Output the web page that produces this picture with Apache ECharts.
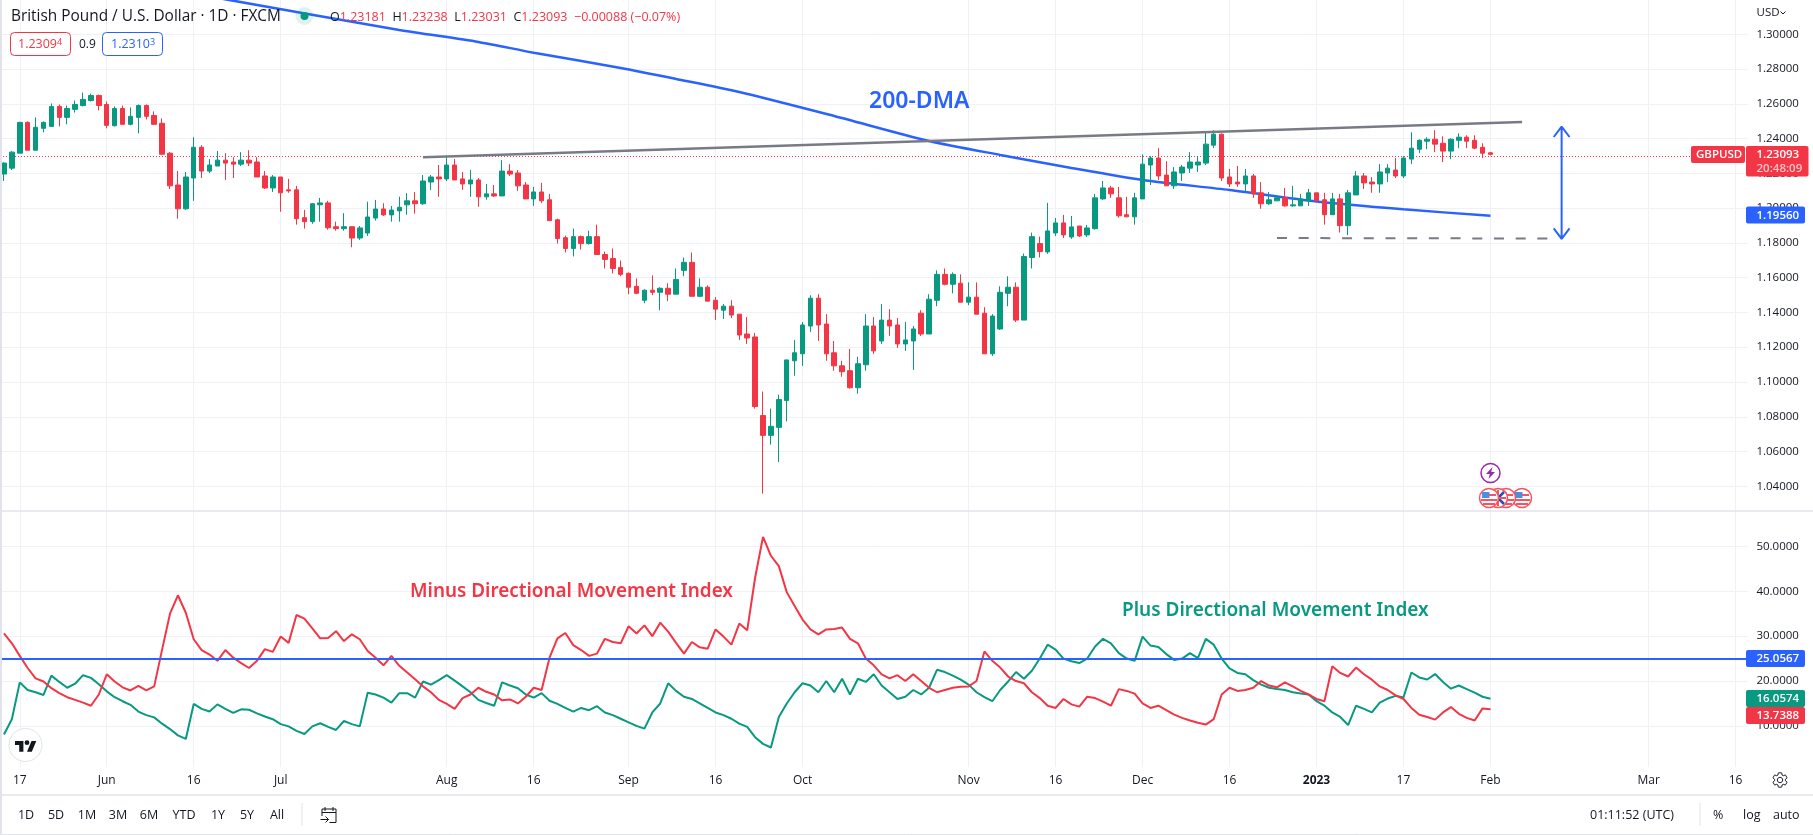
<!DOCTYPE html>
<html>
<head>
<meta charset="utf-8">
<style>html,body{margin:0;padding:0;background:#fff}#chart{width:1813px;height:835px}</style>
<script src="https://cdn.jsdelivr.net/npm/echarts@6/dist/echarts.min.js"></script>
</head>
<body>
<div id="chart"></div>
<script>
// GBP/USD daily candles, one entry per trading day from 13 May 2022
var opens = [
1.2196,1.2230,1.2316,1.2493,1.2333,1.2459,1.2470,1.2585,1.2522,1.2568,
1.2590,1.2619,1.2648,1.2596,1.2474,1.2573,1.2482,1.2522,1.2590,1.2533,
1.2488,1.2316,1.2133,1.1996,1.2173,1.2350,1.2213,1.2242,1.2276,1.2265,
1.2253,1.2276,1.2265,1.2185,1.2116,1.2179,1.2105,1.2105,1.1945,1.1922,
1.2019,1.2030,1.1893,1.1882,1.1893,1.1828,1.1857,1.1943,1.1995,1.1961,
1.1984,1.2019,1.2042,1.2025,1.2150,1.2179,1.2168,1.2248,1.2168,1.2139,
1.2162,1.2065,1.2082,1.2070,1.2213,1.2202,1.2133,1.2053,1.2093,1.2048,
1.1933,1.1830,1.1768,1.1836,1.1796,1.1836,1.1733,1.1710,1.1659,1.1625,
1.1550,1.1470,1.1528,1.1516,1.1539,1.1505,1.1642,1.1688,1.1493,1.1545,
1.1470,1.1413,1.1436,1.1390,1.1276,1.1259,1.0807,1.0693,1.0739,1.0893,
1.1122,1.1162,1.1322,1.1482,1.1333,1.1168,1.1093,1.1065,1.0967,1.1099,
1.1322,1.1236,1.1356,1.1328,1.1219,1.1236,1.1396,1.1276,1.1470,1.1619,
1.1562,1.1568,1.1459,1.1488,1.1396,1.1162,1.1305,1.1510,1.1545,1.1356,
1.1716,1.1796,1.1748,1.1857,1.1915,1.1834,1.1897,1.1846,1.1882,1.2053,
1.2116,1.2059,1.1962,1.1950,1.2053,1.2248,1.2288,1.2190,1.2128,1.2202,
1.2230,1.2248,1.2259,1.2362,1.2425,1.2179,1.2150,1.2139,1.2185,1.2088,
1.2025,1.2042,1.2059,1.2013,1.2013,1.2042,1.2088,1.2048,1.1962,1.2053,
1.1899,1.2076,1.2185,1.2150,1.2139,1.2202,1.2219,1.2185,1.2282,1.2339,
1.2385,1.2396,1.2373,1.2328,1.2390,1.2408,1.2390,1.2350,1.23181];
var closes = [
1.2259,1.2322,1.2493,1.2333,1.2465,1.2493,1.2585,1.2522,1.2573,1.2596,
1.2625,1.2648,1.2590,1.2476,1.2573,1.2482,1.2528,1.2590,1.2528,1.2482,
1.2310,1.2128,1.1996,1.2179,1.2350,1.2213,1.2248,1.2276,1.2259,1.2253,
1.2276,1.2259,1.2179,1.2116,1.2179,1.2088,1.2099,1.1939,1.1922,1.2025,
1.2030,1.1887,1.1882,1.1893,1.1828,1.1886,1.1949,1.1995,1.1961,1.1989,
1.2005,1.2042,1.2025,1.2156,1.2179,1.2168,1.2248,1.2162,1.2139,1.2162,
1.2065,1.2082,1.2070,1.2213,1.2196,1.2128,1.2053,1.2093,1.2042,1.1928,
1.1825,1.1768,1.1836,1.1796,1.1836,1.1733,1.1705,1.1653,1.1619,1.1545,
1.1510,1.1528,1.1516,1.1539,1.1505,1.1590,1.1688,1.1493,1.1545,1.1465,
1.1419,1.1436,1.1385,1.1270,1.1253,1.0859,1.0693,1.0745,1.0899,1.1127,
1.1168,1.1328,1.1482,1.1328,1.1162,1.1093,1.1059,1.0967,1.1105,1.1322,
1.1179,1.1356,1.1322,1.1219,1.1242,1.1305,1.1276,1.1476,1.1619,1.1562,
1.1619,1.1459,1.1488,1.1390,1.1162,1.1379,1.1516,1.1545,1.1356,1.1722,
1.1836,1.1750,1.1869,1.1915,1.1846,1.1892,1.1840,1.1886,1.2059,1.2116,
1.2082,1.1956,1.1950,1.2059,1.2253,1.2288,1.2185,1.2128,1.2208,1.2236,
1.2265,1.2265,1.2368,1.2425,1.2173,1.2139,1.2139,1.2185,1.2082,1.2025,
1.2048,1.2059,1.2013,1.2019,1.2053,1.2088,1.2042,1.1962,1.2053,1.1899,
1.2088,1.2185,1.2145,1.2139,1.2208,1.2230,1.2185,1.2288,1.2345,1.2390,
1.2396,1.2368,1.2328,1.2396,1.2408,1.2385,1.2345,1.2316,1.23093];
var lows = [
1.2156,1.2219,1.2316,1.2333,1.2333,1.2436,1.2470,1.2470,1.2482,1.2550,
1.2585,1.2613,1.2562,1.2459,1.2470,1.2482,1.2476,1.2430,1.2510,1.2482,
1.2305,1.2110,1.1939,1.1990,1.2042,1.2173,1.2202,1.2242,1.2162,1.2173,
1.2242,1.2242,1.2179,1.2110,1.2093,1.1979,1.2088,1.1905,1.1882,1.1910,
1.1922,1.1876,1.1870,1.1870,1.1775,1.1817,1.1840,1.1928,1.1955,1.1922,
1.1922,1.1962,1.1968,1.2019,1.2105,1.2065,1.2156,1.2162,1.2105,1.2065,
1.2008,1.2048,1.2065,1.2070,1.2185,1.2099,1.2053,1.2013,1.2030,1.1928,
1.1796,1.1745,1.1722,1.1762,1.1790,1.1733,1.1653,1.1625,1.1608,1.1505,
1.1505,1.1453,1.1499,1.1413,1.1465,1.1505,1.1608,1.1493,1.1488,1.1465,
1.1356,1.1362,1.1368,1.1242,1.1219,1.0847,1.0358,1.0640,1.0540,1.0773,
1.1036,1.1093,1.1288,1.1236,1.1122,1.1065,1.1030,1.0962,1.0933,1.1065,
1.1162,1.1219,1.1265,1.1196,1.1179,1.1070,1.1265,1.1276,1.1436,1.1556,
1.1510,1.1459,1.1442,1.1390,1.1162,1.1150,1.1299,1.1436,1.1345,1.1356,
1.1653,1.1716,1.1737,1.1840,1.1828,1.1823,1.1834,1.1834,1.1876,1.2048,
1.2059,1.1945,1.1950,1.1905,1.2053,1.2133,1.2162,1.2128,1.2110,1.2156,
1.2202,1.2208,1.2248,1.2345,1.2156,1.2122,1.2122,1.2093,1.2059,1.1996,
1.2019,1.2042,1.2008,1.2008,1.2013,1.2013,1.2042,1.1905,1.1962,1.1860,
1.1845,1.2076,1.2110,1.2088,1.2088,1.2150,1.2173,1.2173,1.2253,1.2316,
1.2339,1.2322,1.2265,1.2282,1.2345,1.2345,1.2339,1.2288,1.23031];
var highs = [
1.2263,1.2328,1.2497,1.2499,1.2522,1.2499,1.2602,1.2596,1.2590,1.2619,
1.2665,1.2659,1.2653,1.2613,1.2585,1.2590,1.2579,1.2596,1.2596,1.2556,
1.2516,1.2322,1.2213,1.2208,1.2408,1.2362,1.2282,1.2328,1.2316,1.2293,
1.2322,1.2333,1.2293,1.2213,1.2190,1.2179,1.2168,1.2128,1.1990,1.2028,
1.2059,1.2042,1.1922,1.1971,1.1895,1.1897,1.2037,1.2047,1.2028,1.2012,
1.2066,1.2086,1.2093,1.2190,1.2190,1.2248,1.2295,1.2282,1.2208,1.2219,
1.2173,1.2139,1.2133,1.2276,1.2253,1.2219,1.2150,1.2122,1.2145,1.2082,
1.1939,1.1842,1.1882,1.1842,1.1870,1.1905,1.1750,1.1768,1.1699,1.1630,
1.1596,1.1533,1.1613,1.1545,1.1568,1.1653,1.1716,1.1745,1.1596,1.1556,
1.1488,1.1448,1.1470,1.1390,1.1373,1.1282,1.0945,1.0847,1.0927,1.1127,
1.1242,1.1345,1.1499,1.1505,1.1390,1.1236,1.1122,1.1190,1.1145,1.1390,
1.1373,1.1448,1.1419,1.1368,1.1345,1.1322,1.1413,1.1505,1.1642,1.1653,
1.1630,1.1619,1.1573,1.1573,1.1430,1.1390,1.1550,1.1608,1.1573,1.1739,
1.1859,1.1836,1.2030,1.1943,1.1961,1.1955,1.1897,1.1903,1.2082,1.2156,
1.2128,1.2122,1.2065,1.2088,1.2309,1.2299,1.2345,1.2270,1.2236,1.2248,
1.2322,1.2299,1.2442,1.2448,1.2430,1.2225,1.2242,1.2225,1.2196,1.2150,
1.2093,1.2076,1.2116,1.2128,1.2082,1.2110,1.2088,1.2088,1.2088,1.2082,
1.2105,1.2213,1.2202,1.2179,1.2253,1.2253,1.2288,1.2299,1.2436,1.2396,
1.2408,1.2448,1.2413,1.2402,1.2430,1.2419,1.2419,1.2373,1.23238];

var plusDI = [
8.1,11.5,19.7,18.0,17.5,16.9,21.2,19.8,18.5,19.4,
21.3,20.7,19.3,17.7,16.4,15.5,14.7,13.2,12.4,11.9,
10.5,9.3,7.9,7.1,14.9,13.8,13.2,14.8,13.8,12.9,
13.7,13.6,12.8,12.1,11.5,10.4,9.9,8.9,8.2,9.9,
10.6,9.8,9.1,11.1,10.4,9.9,17.4,17.0,16.3,15.2,
17.3,17.3,16.3,19.9,19.2,20.2,21.3,20.1,18.8,17.5,
15.8,15.1,14.5,19.7,19.0,18.4,17.0,16.3,17.3,15.6,
14.9,14.0,13.2,14.0,13.5,14.4,13.0,12.4,11.6,10.8,
10.0,9.4,13.0,15.0,19.5,17.8,16.5,16.0,15.0,14.0,
13.0,12.4,11.6,10.5,9.8,7.5,6.0,5.2,12.0,15.0,
17.5,19.5,19.0,17.5,20.0,17.5,20.5,17.0,20.5,19.8,
21.5,19.0,17.5,16.0,16.5,18.0,17.0,18.5,22.5,22.0,
21.2,20.3,19.2,17.5,16.4,15.5,18.0,19.9,22.0,20.5,
22.3,25.0,28.1,27.0,25.0,24.4,24.0,25.0,27.7,29.4,
28.4,26.2,25.0,24.5,29.9,27.9,27.6,26.0,24.7,25.0,
26.2,25.1,29.4,28.1,25.0,22.8,21.8,21.5,20.2,19.2,
18.5,18.2,18.0,17.5,17.2,17.0,15.5,14.5,13.0,12.0,
10.2,14.5,13.8,13.0,15.2,16.1,16.7,16.35,21.9,20.8,
20.35,21.55,19.8,18.3,19.0,18.2,17.4,16.5,16.0574];
var minusDI = [
30.6,28.4,25.6,22.9,20.6,19.9,18.4,17.3,16.4,15.8,
15.2,14.5,17.0,21.5,19.9,18.6,17.9,18.9,17.9,18.8,
27.0,35.0,39.1,35.2,29.3,26.9,25.9,24.5,26.9,25.2,
24.0,22.9,24.5,27.1,26.5,29.9,28.5,34.7,33.9,31.7,
29.5,29.6,31.1,28.9,30.4,29.3,26.7,25.2,23.5,25.6,
23.4,21.9,20.4,18.8,17.5,15.8,14.9,13.8,16.2,17.0,
18.5,17.6,17.0,15.7,15.9,15.0,16.5,18.5,18.0,25.2,
29.5,30.7,28.0,26.9,25.6,26.1,29.4,28.7,28.4,32.2,
30.6,32.4,30.0,33.0,31.0,28.5,26.1,28.7,27.5,27.2,
31.5,29.9,28.1,32.8,31.3,43.0,52.1,47.9,45.6,39.8,
36.7,33.7,31.5,30.4,31.5,31.6,31.9,29.4,28.4,25.0,
23.5,21.5,20.6,21.3,20.0,21.5,20.0,18.5,17.5,18.0,
18.5,18.7,18.8,20.0,26.6,24.5,23.0,21.0,20.0,19.5,
17.5,16.2,14.5,14.0,16.0,14.8,14.3,16.5,16.2,15.4,
14.5,18.2,17.8,17.2,15.0,14.0,14.5,13.5,12.5,11.8,
11.2,10.7,10.3,11.5,17.0,18.5,17.8,18.0,18.5,20.0,
19.0,18.6,19.7,18.8,17.8,17.0,16.0,15.5,23.3,21.8,
21.0,23.0,21.5,20.3,18.8,18.0,16.8,16.0,14.0,12.5,
12.0,11.4,13.0,14.2,12.7,11.8,11.2,13.9,13.7388];

// 200-DMA read at these bar numbers
var dmaBars = [22,29,50,60,67,78,85,93,105,117,126,135,144,155,166,177,188];
var dmaValues = [1.3249,1.3193,1.3025,1.2956,1.2894,1.2806,1.2743,1.2668,1.2530,1.2386,1.2306,1.2231,1.2162,1.2104,1.2038,1.1993,1.1956];

// hand-drawn lines on the price pane: [bar, price]
var trendLine = [[53,1.2292],[192,1.2496]];
var supportLine = [[160.8,1.1828],[195.5,1.1825]];
var rangeArrow = [[195.67,1.2409],[196.93,1.2469],[198.19,1.2409],[196.93,1.2469],[196.93,1.1823],[195.67,1.1883],[196.93,1.1823],[198.19,1.1883]];

var priceTicks = [1.04,1.06,1.08,1.10,1.12,1.14,1.16,1.18,1.20,1.22,1.24,1.26,1.28,1.30];
var dmiTicks = [10,20,30,40,50];
var lastPrice = 1.23093;
var adxLevel = 25.0567;

var timeBars = [2,13,24,35,56,67,79,90,101,122,133,144,155,166,177,188,208,219];
var timeLabels = ['17','Jun','16','Jul','Aug','16','Sep','16','Oct','Nov','16','Dec','16','2023','17','Feb','Mar','16'];
var rangeButtons = ['1D','5D','1M','3M','6M','YTD','1Y','5Y','All'];

var GREEN = '#089981', RED = '#F23645', BLUE = '#2962FF', GREY = '#787B86', GRID = '#eff1f5', INK = '#131722';
var FONT = 'Open Sans';
var NOTE_FONT = 'Noto Sans';

var barCount = 221, barStep = 7.909;
var categories = [];
for (var d = new Date(Date.UTC(2022, 4, 13)); categories.length < barCount; d.setUTCDate(d.getUTCDate() + 1)) {
    if (d.getUTCDay() !== 0 && d.getUTCDay() !== 6) categories.push(d.toISOString().slice(0, 10));
}
var isTick = function(i) { return timeBars.indexOf(i) >= 0; };

var candles = opens.map(function(o, i) { return [o, closes[i], lows[i], highs[i]]; });
var dma = dmaBars.map(function(b, i) { return [b, dmaValues[i]]; });

function xAxisOf(grid, showLabels) {
    return {
        type: 'category', gridIndex: grid, data: categories, boundaryGap: true,
        axisLine: {show: false}, axisTick: {show: false},
        axisLabel: {
            show: showLabels, interval: function(i) { return isTick(i); }, margin: 8,
            color: INK, fontFamily: FONT, fontSize: 12,
            formatter: function(v, i) {
                var t = timeLabels[timeBars.indexOf(i)];
                return t === '2023' ? '{b|2023}' : t;
            },
            rich: {b: {fontWeight: 'bold', color: INK, fontFamily: FONT, fontSize: 12}}
        },
        splitLine: {show: true, alignWithLabel: true, interval: function(i) { return isTick(i); }, lineStyle: {color: GRID, width: 1}}
    };
}
function yAxisOf(grid, min, max, ticks, digits) {
    return {
        type: 'value', gridIndex: grid, position: 'right', min: min, max: max, scale: true,
        axisLine: {show: false},
        axisTick: {show: false, customValues: ticks},
        axisLabel: {
            customValues: ticks, margin: 9, color: INK, fontFamily: FONT, fontSize: 11.5,
            formatter: function(v) { return v.toFixed(digits); }
        },
        splitLine: {show: true, lineStyle: {color: GRID, width: 1}}
    };
}

// icons, the graphic component has no plain path type
echarts.graphic.registerShape('tvLogo', echarts.graphic.extendPath('M14 22H7V11H0V4h14v18zM28 22h-8l7.5-18h8L28 22zM20 11a4 4 0 1 0 0-8 4 4 0 0 0 0 8z', {}));
echarts.graphic.registerShape('calIcon', echarts.graphic.extendPath('M2.5 10V3h14v13.5H10M5.5 1v4M13.5 1v4M2.5 6.5h14M1 13.5h8M6 10.5l3 3-3 3', {}));
echarts.graphic.registerShape('gearIcon', echarts.graphic.extendPath('M19.14 12.94c.04-.3.06-.61.06-.94 0-.32-.02-.64-.07-.94l2.03-1.58a.49.49 0 0 0 .12-.61l-1.92-3.32a.49.49 0 0 0-.59-.22l-2.39.96c-.5-.38-1.03-.7-1.62-.94l-.36-2.54a.484.484 0 0 0-.48-.41h-3.84c-.24 0-.43.17-.47.41l-.36 2.54c-.59.24-1.13.57-1.62.94l-2.39-.96c-.22-.08-.47 0-.59.22L2.74 8.87c-.12.21-.08.47.12.61l2.03 1.58c-.05.3-.09.63-.09.94s.02.64.07.94l-2.03 1.58a.49.49 0 0 0-.12.61l1.92 3.32c.12.22.37.29.59.22l2.39-.96c.5.38 1.03.7 1.62.94l.36 2.54c.05.24.24.41.48.41h3.84c.24 0 .44-.17.47-.41l.36-2.54c.59-.24 1.13-.56 1.62-.94l2.39.96c.22.08.47 0 .59-.22l1.92-3.32c.12-.22.07-.47-.12-.61l-2.01-1.58zM12 15.6c-1.98 0-3.6-1.62-3.6-3.6s1.62-3.6 3.6-3.6 3.6 1.62 3.6 3.6-1.62 3.6-3.6 3.6z', {}));

// ---- overlay pieces (tags, header, toolbar)
var Z = 100;
function txt(x, y, s, color, size, extra) {
    var st = {x: x, y: y, text: s, fill: color, fontFamily: FONT, fontSize: size, verticalAlign: 'middle'};
    for (var k in (extra || {})) st[k] = extra[k];
    return {type: 'text', z: Z + 2, style: st, silent: true};
}
function box(x, y, w, h, fill, r, stroke) {
    return {type: 'rect', z: Z, silent: true, shape: {x: x, y: y, width: w, height: h, r: r || 0},
        style: {fill: fill, stroke: stroke || null, lineWidth: stroke ? 1 : 0}};
}
function seg(x1, y1, x2, y2, color, w) {
    return {type: 'line', z: Z - 1, silent: true, shape: {x1: x1, y1: y1, x2: x2, y2: y2}, style: {stroke: color, lineWidth: w || 1}};
}
function icon(name, x, y, scale, style) {
    return {type: name, z: Z + 1, silent: true, x: x, y: y, scaleX: scale, scaleY: scale, style: style};
}
function usFlag(cx, cy, z) {
    var parts = [
        {type: 'circle', shape: {cx: cx, cy: cy, r: 9.5}, style: {fill: '#fff', stroke: '#F7525F', lineWidth: 1.5}},
        {type: 'rect', shape: {x: cx - 7, y: cy - 6, width: 7.5, height: 6}, style: {fill: '#4A90E2'}},
        {type: 'rect', shape: {x: cx, y: cy - 4, width: 7, height: 2}, style: {fill: '#F7525F'}},
        {type: 'rect', shape: {x: cx - 8, y: cy + 1, width: 16, height: 2}, style: {fill: '#F7525F'}},
        {type: 'rect', shape: {x: cx - 6, y: cy + 5, width: 12, height: 2}, style: {fill: '#F7525F'}}
    ];
    parts.forEach(function(p, i) { p.z = z + i / 10; p.silent = true; });
    return parts;
}
function ukFlag(cx, cy, z) {
    var parts = [
        {type: 'circle', shape: {cx: cx, cy: cy, r: 9.5}, style: {fill: '#fff', stroke: '#F7525F', lineWidth: 1.5}},
        {type: 'line', shape: {x1: cx - 6, y1: cy - 6, x2: cx + 6, y2: cy + 6}, style: {stroke: '#1E53B5', lineWidth: 2.5}},
        {type: 'line', shape: {x1: cx - 6, y1: cy + 6, x2: cx + 6, y2: cy - 6}, style: {stroke: '#1E53B5', lineWidth: 2.5}},
        {type: 'rect', shape: {x: cx - 8, y: cy - 1, width: 16, height: 2}, style: {fill: '#F7525F'}},
        {type: 'rect', shape: {x: cx - 1, y: cy - 8, width: 2, height: 16}, style: {fill: '#F7525F'}}
    ];
    parts.forEach(function(p, i) { p.z = z + i / 10; p.silent = true; });
    return parts;
}

var overlay = [
    box(0, 0, 2, 835, '#E0E3EB'),
    seg(0, 511, 1813, 511, '#E0E3EB', 1.5),
    seg(2, 795, 1813, 795, '#E0E3EB', 1.5),
    seg(0, 834.5, 1813, 834.5, '#E0E3EB', 1),

    // legend
    txt(11, 17, 'British Pound / U.S. Dollar \u00B7 1D \u00B7 FXCM', INK, 15.4),
    {type: 'circle', z: Z, silent: true, shape: {cx: 304.5, cy: 16, r: 9}, style: {fill: 'rgba(8,153,129,0.13)'}},
    {type: 'circle', z: Z + 1, silent: true, shape: {cx: 304.5, cy: 16, r: 4}, style: {fill: GREEN}},
    {type: 'text', z: Z + 2, silent: true, style: {
        x: 330, y: 17, verticalAlign: 'middle', fontFamily: FONT, fontSize: 12.5, fill: RED,
        text: '{k|O}1.23181  {k|H}1.23238  {k|L}1.23031  {k|C}1.23093  \u22120.00088 (\u22120.07%)',
        rich: {k: {fill: INK, fontFamily: FONT, fontSize: 12.5}}
    }},
    box(10.5, 32.5, 60, 23, '#fff', 4, RED),
    {type: 'text', z: Z + 2, silent: true, style: {x: 18, y: 44.5, verticalAlign: 'middle', fontFamily: FONT, fontSize: 12.5, fill: RED,
        text: '1.2309{s|4}', rich: {s: {fontSize: 9, fill: RED, fontFamily: FONT, verticalAlign: 'top'}}}},
    txt(79, 44.5, '0.9', INK, 12),
    box(102.5, 32.5, 60, 23, '#fff', 4, BLUE),
    {type: 'text', z: Z + 2, silent: true, style: {x: 111, y: 44.5, verticalAlign: 'middle', fontFamily: FONT, fontSize: 12.5, fill: BLUE,
        text: '1.2310{s|3}', rich: {s: {fontSize: 9, fill: BLUE, fontFamily: FONT, verticalAlign: 'top'}}}},

    // notes on the chart
    txt(869, 101, '200-DMA', BLUE, 23, {fontFamily: NOTE_FONT, fontWeight: 600}),
    txt(410, 592, 'Minus Directional Movement Index', RED, 18.9, {fontFamily: NOTE_FONT, fontWeight: 600}),
    txt(1122, 611, 'Plus Directional Movement Index', GREEN, 19, {fontFamily: NOTE_FONT, fontWeight: 600}),

    // price scale top
    txt(1756.5, 12.5, 'USD', INK, 11.5),
    {type: 'polyline', z: Z + 2, silent: true, shape: {points: [[1780.5, 11.5], [1783, 14], [1785.5, 11.5]]}, style: {stroke: INK, fill: null, lineWidth: 1}},

    // price tags
    box(1691, 146, 54, 17, RED, 2),
    txt(1696, 155, 'GBPUSD', '#fff', 11.5, {fontWeight: 600}),
    box(1746, 146, 62.5, 30.5, RED, 2),
    txt(1756.5, 155, '1.23093', '#fff', 11.5, {fontWeight: 600}),
    txt(1756.5, 169, '20:48:09', '#FBC4C9', 11.5, {fontWeight: 600}),
    box(1746, 206.5, 59, 17, BLUE, 2),
    txt(1756.5, 215.5, '1.19560', '#fff', 11.5, {fontWeight: 600}),
    box(1746, 650, 59, 17, BLUE, 2),
    txt(1756.5, 658.5, '25.0567', '#fff', 11.5, {fontWeight: 600}),
    box(1746, 690, 59, 17, GREEN, 2),
    txt(1756.5, 698.5, '16.0574', '#fff', 11.5, {fontWeight: 600}),
    box(1746, 707, 59, 17, RED, 2),
    txt(1756.5, 715.5, '13.7388', '#fff', 11.5, {fontWeight: 600}),

    // event icons
    {type: 'circle', z: Z, silent: true, shape: {cx: 1490.5, cy: 473, r: 9.5}, style: {fill: '#fff', stroke: '#9C27B0', lineWidth: 1.5}},
    {type: 'polygon', z: Z + 1, silent: true, shape: {points: [[1492.5, 467], [1486, 474], [1489.8, 474], [1488.5, 479], [1495, 472], [1491.2, 472]]}, style: {fill: '#9C27B0'}},

    // logo
    {type: 'circle', z: Z, silent: true, shape: {cx: 25.5, cy: 745, r: 16.5}, style: {fill: '#fff', stroke: '#E0E3EB', lineWidth: 1}},
    icon('tvLogo', 15, 738.5, 0.6, {fill: INK}),

    // bottom toolbar
    seg(302, 803, 302, 826, '#E0E3EB', 1),
    icon('calIcon', 319.5, 806, 1, {fill: null, stroke: INK, lineWidth: 1}),
    txt(1590, 815, '01:11:52 (UTC)', INK, 12.5),
    seg(1700, 803, 1700, 826, '#E0E3EB', 1),
    txt(1713, 815, '%', INK, 12.5),
    txt(1743, 815, 'log', INK, 12.5),
    txt(1773, 815, 'auto', INK, 12.5),
    icon('gearIcon', 1771, 771, 0.75, {fill: null, stroke: INK, lineWidth: 1.3})
];
var buttonX = [26, 56, 87, 118, 149, 184, 218, 247, 277];
rangeButtons.forEach(function(b, i) { overlay.push(txt(buttonX[i], 815, b, INK, 12.5, {align: 'center'})); });
overlay = overlay.concat(usFlag(1522, 498, Z), usFlag(1506, 498, Z + 4), ukFlag(1498, 498, Z + 8), usFlag(1489, 498, Z + 12));

var chart = echarts.init(document.getElementById('chart'));
chart.setOption({
    animation: false,
    backgroundColor: '#fff',
    grid: [
        {left: -0.45, top: 0, width: barCount * barStep, height: 511},
        {left: -0.45, top: 511, width: barCount * barStep, height: 256}
    ],
    xAxis: [xAxisOf(0, false), xAxisOf(1, true)],
    yAxis: [yAxisOf(0, 1.0258, 1.3197, priceTicks, 5), yAxisOf(1, 0.85, 57.87, dmiTicks, 4)],
    series: [
        {
            type: 'line', name: '200-DMA', xAxisIndex: 0, yAxisIndex: 0, data: dma, z: 2,
            showSymbol: false, smooth: 0.25, lineStyle: {color: BLUE, width: 2.5}
        },
        {
            type: 'candlestick', name: 'GBPUSD', xAxisIndex: 0, yAxisIndex: 0, data: candles, z: 3, barWidth: 5,
            itemStyle: {color: GREEN, color0: RED, borderColor: GREEN, borderColor0: RED, borderWidth: 1},
            markLine: {
                silent: true, symbol: 'none', animation: false, z: 1,
                label: {show: false},
                lineStyle: {color: RED, type: [1, 2], width: 1},
                data: [{yAxis: lastPrice}]
            }
        },
        {
            type: 'line', name: 'trend', xAxisIndex: 0, yAxisIndex: 0, data: trendLine, z: 4,
            showSymbol: false, lineStyle: {color: GREY, width: 2.5}
        },
        {
            type: 'line', name: 'support', xAxisIndex: 0, yAxisIndex: 0, data: supportLine, z: 4,
            showSymbol: false, lineStyle: {color: GREY, width: 2, type: [10, 11.7]}
        },
        {
            type: 'line', name: 'range', xAxisIndex: 0, yAxisIndex: 0, data: rangeArrow, z: 4,
            showSymbol: false, lineStyle: {color: BLUE, width: 2}
        },
        {
            type: 'line', name: '+DI', xAxisIndex: 1, yAxisIndex: 1, data: plusDI, z: 3,
            showSymbol: false, lineStyle: {color: GREEN, width: 2}
        },
        {
            type: 'line', name: '-DI', xAxisIndex: 1, yAxisIndex: 1, data: minusDI, z: 3,
            showSymbol: false, lineStyle: {color: RED, width: 2},
            markLine: {
                silent: true, symbol: 'none', animation: false,
                label: {show: false},
                lineStyle: {color: BLUE, type: 'solid', width: 2},
                data: [{yAxis: adxLevel}]
            }
        }
    ],
    graphic: {elements: overlay}
});
</script>
</body>
</html>
